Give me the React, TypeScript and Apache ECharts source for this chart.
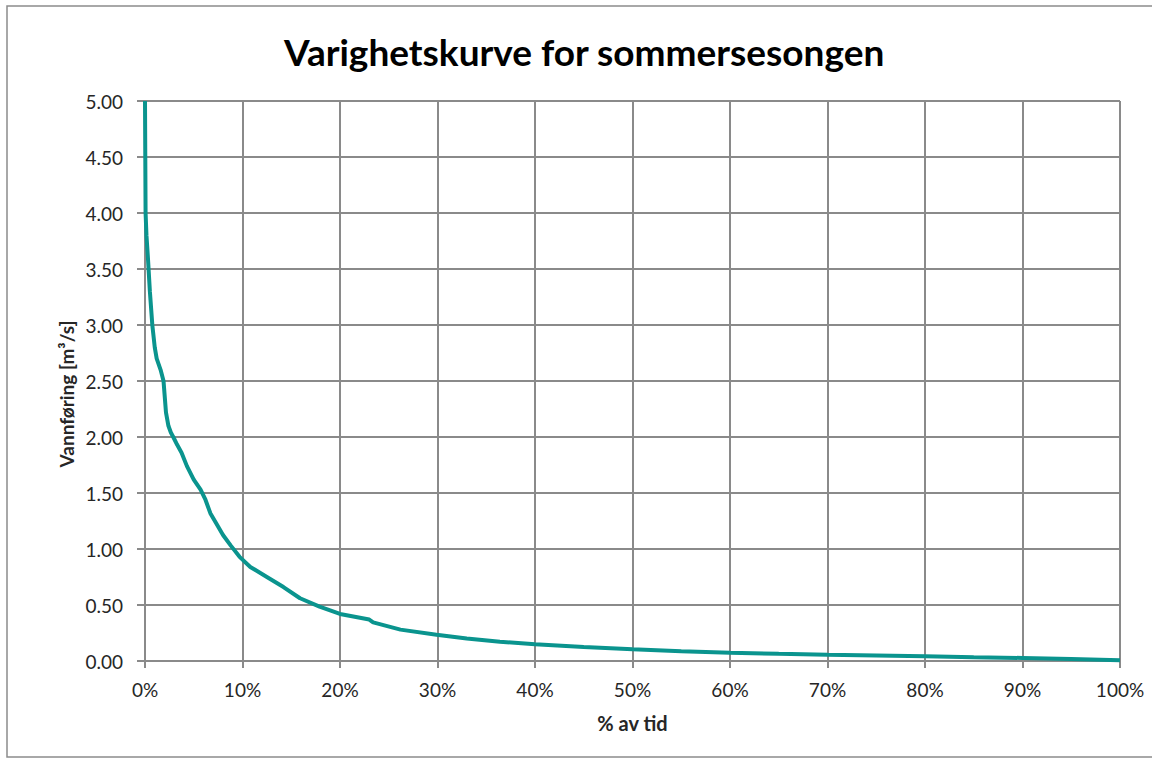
import React, { useEffect, useRef } from "react";
import * as echarts from "echarts";

const titleText = "Varighetskurve for sommersesongen";
const xAxisName = "% av tid";
const yAxisName = "Vannføring [m³/s]";

// percent of time (x) and discharge m3/s (y)
const pctTime: number[] = [
  0, 0.03, 0.06, 0.15, 0.3, 0.5, 0.75, 1.0, 1.2, 1.6, 1.9, 2.15, 2.4, 2.65, 2.9,
  3.3, 3.75, 4.3, 5.0, 5.7, 6.2, 6.7, 7.3, 8.0, 8.8, 9.7, 10.8, 12.5, 14.2, 15.9,
  17.9, 20.0, 23.0, 23.4, 26.2, 29.9, 33.0, 36.4, 40, 45, 50, 55, 60, 65, 70, 75,
  80, 85, 90, 95, 100,
];
const discharge: number[] = [
  5.0, 4.5, 4.0, 3.8, 3.6, 3.3, 3.0, 2.8, 2.7, 2.6, 2.5, 2.22, 2.1, 2.04, 2.0,
  1.93, 1.86, 1.74, 1.62, 1.53, 1.44, 1.32, 1.23, 1.125, 1.03, 0.93, 0.84, 0.75,
  0.66, 0.56, 0.485, 0.42, 0.37, 0.345, 0.28, 0.235, 0.2, 0.172, 0.15, 0.125,
  0.104, 0.088, 0.074, 0.064, 0.056, 0.049, 0.042, 0.034, 0.027, 0.018, 0.007,
];

const FONT = "Lato";
const GRID = "#8a8a8a";
const TXT = "#262626";

export default function App() {
  const ref = useRef<HTMLDivElement>(null);
  useEffect(() => {
    if (!ref.current) return;
    const chart = echarts.init(ref.current, undefined, { renderer: "svg" });
    const data = pctTime.map((p, i) => [p, discharge[i]]);
    chart.setOption({
      animation: false,
      backgroundColor: "#ffffff",
      title: {
        text: titleText,
        left: 279,
        top: 28,
        textStyle: { fontFamily: FONT, fontWeight: "bold", fontSize: 37, color: "#000" },
      },
      graphic: [
        {
          type: "rect",
          shape: { x: 7, y: 6, width: 1200, height: 751 },
          style: { fill: "none", stroke: "#8c8c8c", lineWidth: 1.5 },
          silent: true,
        },
        {
          type: "text",
          x: 66,
          y: 394,
          rotation: Math.PI / 2,
          style: {
            text: yAxisName,
            fontFamily: FONT,
            fontWeight: "bold",
            fontSize: 19,
            fill: TXT,
            textAlign: "center",
            textVerticalAlign: "middle",
          },
          silent: true,
        },
      ],
      grid: { left: 145, right: 32, top: 101, bottom: 100, containLabel: false },
      xAxis: {
        type: "value",
        min: 0,
        max: 100,
        interval: 10,
        name: xAxisName,
        nameLocation: "middle",
        nameGap: 52,
        nameTextStyle: { fontFamily: FONT, fontWeight: "bold", fontSize: 20, color: TXT },
        axisLine: { show: true, lineStyle: { color: GRID, width: 2 } },
        axisTick: { show: true, length: 7, lineStyle: { color: GRID, width: 2 } },
        axisLabel: {
          margin: 19,
          fontFamily: FONT,
          fontSize: 19,
          color: TXT,
          formatter: (v: number) => `${v}%`,
        },
        splitLine: { show: true, lineStyle: { color: GRID, width: 2 } },
      },
      yAxis: {
        type: "value",
        min: 0,
        max: 5,
        interval: 0.5,
        axisLine: { show: true, lineStyle: { color: GRID, width: 2 } },
        axisTick: { show: true, length: 8, lineStyle: { color: GRID, width: 2 } },
        axisLabel: {
          margin: 22,
          fontFamily: FONT,
          fontSize: 19,
          color: TXT,
          formatter: (v: number) => v.toFixed(2),
        },
        splitLine: { show: true, lineStyle: { color: GRID, width: 2 } },
      },
      series: [
        {
          type: "line",
          data,
          showSymbol: false,
          symbol: "none",
          smooth: false,
          lineStyle: { color: "#0a948e", width: 4 },
          itemStyle: { color: "#0a948e" },
        },
      ],
    });
    return () => chart.dispose();
  }, []);
  return (
    <div
      ref={ref}
      style={{ position: "fixed", left: 0, top: 0, width: 1152, height: 761 }}
    />
  );
}
